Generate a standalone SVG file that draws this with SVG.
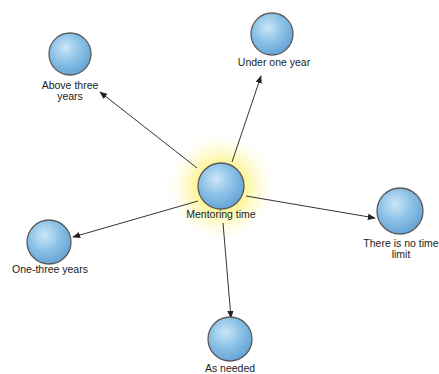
<svg xmlns="http://www.w3.org/2000/svg" width="439" height="374" viewBox="0 0 439 374">
<defs>
<radialGradient id="ball" cx="0.4" cy="0.35" r="0.65">
<stop offset="0" stop-color="#cde6f7"/>
<stop offset="0.5" stop-color="#8fc4e8"/>
<stop offset="1" stop-color="#67a6d6"/>
</radialGradient>
<radialGradient id="glow" cx="0.5" cy="0.5" r="0.5">
<stop offset="0" stop-color="#fff04a" stop-opacity="1"/>
<stop offset="0.5" stop-color="#fdf37f" stop-opacity="0.7"/>
<stop offset="1" stop-color="#fffbe0" stop-opacity="0"/>
</radialGradient>
<marker id="arr" viewBox="0 0 10 10" refX="9" refY="5" markerWidth="8" markerHeight="8" orient="auto" markerUnits="userSpaceOnUse">
<path d="M0,1 L10,5 L0,9 Z" fill="#222"/>
</marker>
<style>
.n{fill:url(#ball);stroke:#5a5a5a;stroke-width:1.3}
.t{font-family:"Liberation Sans",Arial,sans-serif;font-size:10.5px;fill:#222;text-anchor:middle}
.c{stroke:#333;stroke-width:1;fill:none;marker-end:url(#arr)}
</style>
</defs>
<rect width="439" height="374" fill="#fff"/>
<circle cx="221" cy="187" r="54" fill="url(#glow)"/>
<g id="connectors">
<line class="c" x1="197" y1="168" x2="100" y2="92"/>
<line class="c" x1="232" y1="162" x2="261" y2="76"/>
<line class="c" x1="246" y1="196" x2="375" y2="218"/>
<line class="c" x1="198" y1="201" x2="73" y2="237"/>
<line class="c" x1="223" y1="223" x2="231" y2="318"/>
</g>
<g id="center">
<circle class="n" cx="221" cy="186" r="23"/>
<text class="t" x="221" y="218">Mentoring time</text>
</g>
<g id="above">
<circle class="n" cx="70" cy="54" r="21"/>
<text class="t" x="70" y="89">Above three</text>
<text class="t" x="70" y="100">years</text>
</g>
<g id="under">
<circle class="n" cx="272" cy="34" r="21"/>
<text class="t" x="274" y="66">Under one year</text>
</g>
<g id="nolimit">
<circle class="n" cx="400" cy="211" r="23"/>
<text class="t" x="401" y="247">There is no time</text>
<text class="t" x="401" y="258">limit</text>
</g>
<g id="onethree">
<circle class="n" cx="49" cy="242" r="22"/>
<text class="t" x="50" y="273">One-three years</text>
</g>
<g id="asneeded">
<circle class="n" cx="230" cy="339" r="22"/>
<text class="t" x="230" y="372">As needed</text>
</g>
</svg>
